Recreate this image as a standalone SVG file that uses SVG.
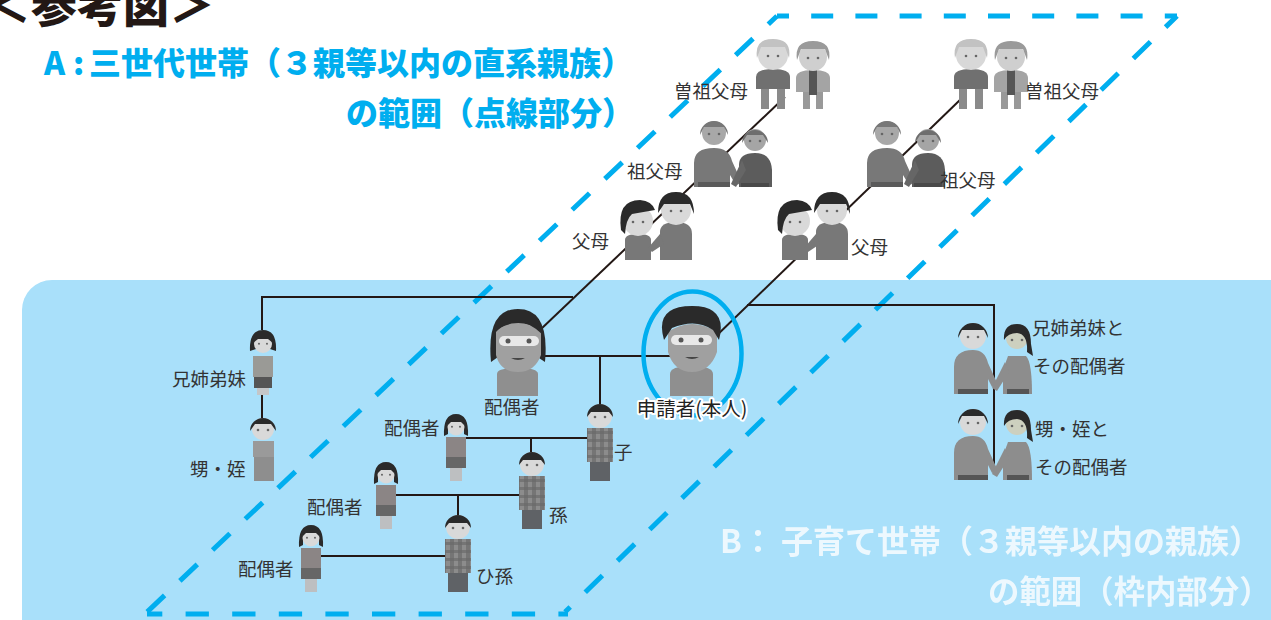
<svg xmlns="http://www.w3.org/2000/svg" width="1271" height="620" viewBox="0 0 1271 620">
<style>
text{font-family:"Noto Sans CJK JP","Liberation Sans",sans-serif}
.lb{font-size:18.5px;fill:#333}
.a{font-size:32px;font-weight:900;fill:#00aeef}
.b{font-size:32px;font-weight:700;fill:#fff;opacity:.8}
.dash{fill:none;stroke:#00aeef;stroke-width:5}
.ln{fill:none;stroke:#231815;stroke-width:2}
.hair{fill:#2a2a2a}.face{fill:#d9d9d9}.body{fill:#8d8d8d}.mid{fill:#787878}.eye{fill:#666}
</style>
<defs>
<filter id="soft" x="-10%" y="-10%" width="120%" height="120%"><feGaussianBlur stdDeviation="0.7"/></filter>
<pattern id="plaid" width="8" height="8" patternUnits="userSpaceOnUse"><rect width="8" height="8" fill="#8c8c8c"/><rect width="4" height="8" fill="#757575"/><rect width="8" height="3" fill="#6a6a6a" opacity=".7"/></pattern>
<g id="eyes"><circle cx="-5" cy="0" r="1.3" class="eye"/><circle cx="5" cy="0" r="1.3" class="eye"/></g>
<g id="boy"><rect x="-10" y="45" width="20" height="21" fill="#5f6266"/><rect x="-13" y="13" width="26" height="34" fill="url(#plaid)"/><circle r="12" cy="1" class="face"/><path d="M-13 2A13 13 0 0 1 13 2L9-3H-9Z" class="hair"/><use href="#eyes" y="2"/></g>
<g id="girl"><rect x="-6" y="40" width="12" height="15" fill="#bdbfc1"/><rect x="-10" y="30" width="20" height="12" fill="#666"/><rect x="-10" y="11" width="20" height="20" fill="#8b8585"/><path d="M-12 10Q-13-12 0-12Q13-12 12 10L8 8V-2H-8V8Z" class="hair"/><circle r="8.5" cy="1" class="face"/><path d="M-9 0Q-8-9 0-9Q8-9 9 0L5-4H-5Z" class="hair"/><use href="#eyes" y="1" transform="scale(.8)"/></g>
<g id="sis"><rect x="-6" y="44" width="12" height="8" fill="#c4c6c8"/><rect x="-9" y="33" width="18" height="12" fill="#555"/><rect x="-10" y="13" width="20" height="21" fill="#9a9a96"/><path d="M-13 8Q-14-13 0-13Q14-13 13 8L7 6V0H-7V6Z" class="hair"/><circle r="9" cy="1" class="face"/><path d="M-10 0Q-8-10 0-10Q8-10 10 0L5-4H-5Z" class="hair"/><use href="#eyes" y="1" transform="scale(.8)"/></g>
<g id="kid"><rect x="-9" y="28" width="20" height="26" fill="#8e8e8e"/><rect x="-10" y="14" width="21" height="16" fill="#9a9a9a"/><circle r="11" cy="2" class="face"/><path d="M-13 4A13 13 0 0 1 13 4L8-3H-8Z" class="hair"/><use href="#eyes" y="3"/></g>
<g id="cm"><path d="M-19 59V32Q-19 15 0 15Q12 15 15 28L25 50 19 52 15 44V59Z" class="body"/><rect x="-15" y="54" width="30" height="5" fill="#555"/><circle r="13" cy="1" class="face"/><path d="M-15 3A15 15 0 0 1 15 3L11-5H-11Z" class="hair"/><use href="#eyes" y="2"/></g>
<g id="cw"><path d="M-14 56V32L-9 18H9Q15 24 15 56Z" class="body"/><path d="M-12 24-25 50-20 53-8 34Z" class="body"/><rect x="-10" y="51" width="22" height="5" fill="#555"/><circle r="11" fill="#cdd0bf"/><path d="M-13 2Q-14-14 0-14Q14-14 14 6L16 18 10 14Q11-4 0-5Q-9-5-13 2Z" class="hair"/><use href="#eyes" y="2"/></g>
<g id="gm"><path d="M-20 54V30Q-20 15 0 15Q15 15 18 28L28 50 22 52 16 42V54Z" class="mid"/><rect x="-16" y="49" width="32" height="5" fill="#5a5a5a"/><circle r="12" fill="#a8a8a8"/><path d="M-14 2A14 14 0 0 1 14 2L10-6H-10Z" fill="#777"/><use href="#eyes" y="1"/></g>
<g id="gw"><path d="M-16 47V25Q-16 13 0 13Q16 13 17 30V47Z" fill="#5c5c5c"/><path d="M-13 20-24 44-19 47-9 30Z" fill="#666"/><rect x="-14" y="43" width="28" height="4" fill="#4a4a4a"/><circle r="11" fill="#a5a5a5"/><path d="M-13 3A13 13 0 0 1 13 3L8-5H-8Z" fill="#6e6e6e"/><use href="#eyes" y="1"/></g>
<g id="pm"><path d="M-16 48V20Q-16 10 0 10Q16 10 16 22V48Z" class="mid"/><path d="M-16 22-28 36-24 40-12 32Z" class="mid"/><circle r="15" cy="-2" class="face"/><path d="M-18 1Q-18-20 0-20Q18-20 18 2L14-8H-12Z" class="hair"/><use href="#eyes" y="-1"/></g>
<g id="pw"><path d="M-13 38V18Q-13 12 0 12Q13 12 13 18V38Z" class="mid"/><circle r="15" cy="-1" class="face"/><path d="M-17 8Q-21-22 2-22Q14-21 17-12L-6-8Q-12-3-13 12Z" class="hair"/><use href="#eyes" y="0"/></g>
<g id="em"><rect x="-12" y="30" width="8" height="24" fill="#8a8a8a"/><rect x="4" y="30" width="8" height="24" fill="#8a8a8a"/><path d="M-17 34V22Q-17 14 0 14Q17 14 17 22V34Z" fill="#6f6f6f"/><circle r="15" cy="0" fill="#d8d8d8"/><path d="M-16 3Q-19-16 0-16Q19-16 16 3L12-8H-12Z" fill="#c2c2c2"/><use href="#eyes" y="1"/></g>
<g id="ew"><rect x="-10" y="30" width="7" height="19" fill="#999"/><rect x="3" y="30" width="7" height="19" fill="#999"/><path d="M-17 32V18Q-17 10 0 10Q17 10 17 18V32Z" fill="#a4a4a4"/><rect x="-4" y="10" width="8" height="25" fill="#555"/><circle r="14" cy="-3" fill="#cfcfcf"/><path d="M-16 0Q-19-19 0-19Q19-19 16 0L12-11H-12Z" fill="#9a9a9a"/><use href="#eyes" y="-2"/></g>
</defs>
<rect id="panel" x="22" y="280" width="1300" height="380" rx="30" fill="#a9e0fa"/>
<g id="range-a">
<path class="dash" d="M777 16H1177" stroke-dasharray="22 22.2" stroke-dashoffset="10"/>
<path class="dash" d="M777 16L147 612" stroke-dasharray="24 21" stroke-dashoffset="12"/>
<path class="dash" d="M1177 16L565 612" stroke-dasharray="24 21" stroke-dashoffset="8"/>
<path class="dash" d="M147 614H568" stroke-dasharray="23.3 23.3" stroke-dashoffset="8"/>
</g>
<g id="connectors">
<path class="ln" d="M962 98L712 340"/>
<path class="ln" d="M785 97L540 330"/>
<path class="ln" d="M573 297H262V330M262 395V425"/>
<path class="ln" d="M540 356H670M600 356V405"/>
<path class="ln" d="M464 438H590M531 438V455"/>
<path class="ln" d="M393 495H520M458 495V516"/>
<path class="ln" d="M317 556H445"/>
<path class="ln" d="M747 305H994V467"/>
</g>
<g id="titles">
<text x="-15" y="22" fill="#231815" style="font-size:46px;font-weight:900">＜参考図＞</text>
<text class="a"><tspan x="44" y="75">A</tspan><tspan x="73" y="75">:</tspan><tspan x="89" y="75">三世代世帯（３親等以内の直系親族）</tspan></text>
<text class="a" x="346" y="125">の範囲（点線部分）</text>
<text class="b"><tspan x="720" y="553">B</tspan><tspan x="742" y="553">：</tspan><tspan x="781" y="553">子育て世帯（３親等以内の親族）</tspan></text>
<text class="b" x="988" y="603" style="font-size:31.4px">の範囲（枠内部分）</text>
</g>
<g id="great-grandparents-l" filter="url(#soft)"><use href="#em" x="773" y="55"/><use href="#ew" x="813" y="60"/></g>
<g id="great-grandparents-r" filter="url(#soft)"><use href="#em" x="971" y="55"/><use href="#ew" x="1011" y="60"/></g>
<g id="grandparents-l" filter="url(#soft)"><use href="#gm" x="714" y="133"/><use href="#gw" x="755" y="140"/></g>
<g id="grandparents-r" filter="url(#soft)"><use href="#gm" x="887" y="133"/><use href="#gw" x="928" y="140"/></g>
<g id="parents-l" filter="url(#soft)"><use href="#pw" x="638" y="222"/><use href="#pm" x="676" y="212"/></g>
<g id="parents-r" filter="url(#soft)"><use href="#pw" x="795" y="222"/><use href="#pm" x="832" y="212"/></g>
<g id="spouse" filter="url(#soft)">
<path d="M497 396V374Q497 368 518 368Q538 368 538 374V396Z" fill="#8f8f8f"/>
<path d="M491 362Q486 309 518 309Q550 309 545 362L530 352H505Z" class="hair"/>
<path d="M496 330Q518 316 541 330V355Q535 372 518 372Q500 372 496 355Z" fill="#a0a0a0"/>
<rect x="499" y="336" width="40" height="10" rx="5" fill="#e8e8e8"/>
<path d="M493 335Q494 312 518 312Q542 312 543 335Q530 322 518 322Q504 322 493 335Z" class="hair"/>
<circle cx="508" cy="341" r="2.5" fill="#555"/><circle cx="529" cy="341" r="2.5" fill="#555"/>
<path d="M511 358Q518 362 525 358" fill="#444"/>
</g>
<g id="applicant">
<ellipse cx="692.5" cy="353.5" rx="49" ry="62" fill="none" stroke="#00aeef" stroke-width="4.5"/>
<g filter="url(#soft)">
<path d="M670 396V374Q670 366 691 366Q713 366 713 374V396Z" fill="#8f8f8f"/>
<path d="M668 332Q692 316 717 332V352Q710 372 692 372Q674 372 668 352Z" fill="#a0a0a0"/>
<rect x="671" y="335" width="41" height="10" rx="5" fill="#e8e8e8"/>
<path d="M664 340Q654 306 692 306Q728 306 719 340L713 330Q696 318 672 328Z" class="hair"/>
<circle cx="681" cy="340" r="2.5" fill="#555"/><circle cx="701" cy="340" r="2.5" fill="#555"/>
<path d="M685 357Q692 361 699 357" fill="#444"/>
</g>
</g>
<g id="child" filter="url(#soft)"><use href="#boy" x="600" y="415"/></g>
<g id="child-spouse" filter="url(#soft)"><use href="#girl" x="456" y="426"/></g>
<g id="grandchild" filter="url(#soft)"><use href="#boy" x="532" y="463"/></g>
<g id="grandchild-spouse" filter="url(#soft)"><use href="#girl" x="386" y="474"/></g>
<g id="great-grandchild" filter="url(#soft)"><use href="#boy" x="458" y="526"/></g>
<g id="great-grandchild-spouse" filter="url(#soft)"><use href="#girl" x="311" y="537"/></g>
<g id="sibling-l" filter="url(#soft)"><use href="#sis" x="263" y="343"/></g>
<g id="nephew-l" filter="url(#soft)"><use href="#kid" x="263" y="427"/></g>
<g id="sibling-couple" filter="url(#soft)"><use href="#cm" x="973" y="335"/><use href="#cw" x="1017" y="338"/></g>
<g id="nephew-couple" filter="url(#soft)"><use href="#cm" x="973" y="421"/><use href="#cw" x="1017" y="424"/></g>
<g id="labels">
<text class="lb" x="674" y="98">曽祖父母</text>
<text class="lb" x="627" y="178">祖父母</text>
<text class="lb" x="572" y="248">父母</text>
<text class="lb" x="1025" y="98">曽祖父母</text>
<text class="lb" x="940" y="187">祖父母</text>
<text class="lb" x="851" y="254">父母</text>
<text class="lb" x="172" y="386">兄姉弟妹</text>
<text class="lb" x="190" y="476">甥・姪</text>
<text class="lb" x="484" y="414">配偶者</text>
<text class="lb" x="384" y="435">配偶者</text>
<text class="lb" x="307" y="514">配偶者</text>
<text class="lb" x="238" y="576">配偶者</text>
<text class="lb" x="614" y="459">子</text>
<text class="lb" x="549" y="522">孫</text>
<text class="lb" x="476" y="583">ひ孫</text>
<text class="lb" x="1032" y="335">兄姉弟妹と</text>
<text class="lb" x="1033" y="373">その配偶者</text>
<text class="lb" x="1035" y="436">甥・姪と</text>
<text class="lb" x="1035" y="474">その配偶者</text>
<text x="692" y="416" text-anchor="middle" style="font-size:19.5px;fill:#222;stroke:#fff;stroke-width:4px;paint-order:stroke;stroke-linejoin:round">申請者(本人)</text>
</g>
</svg>
